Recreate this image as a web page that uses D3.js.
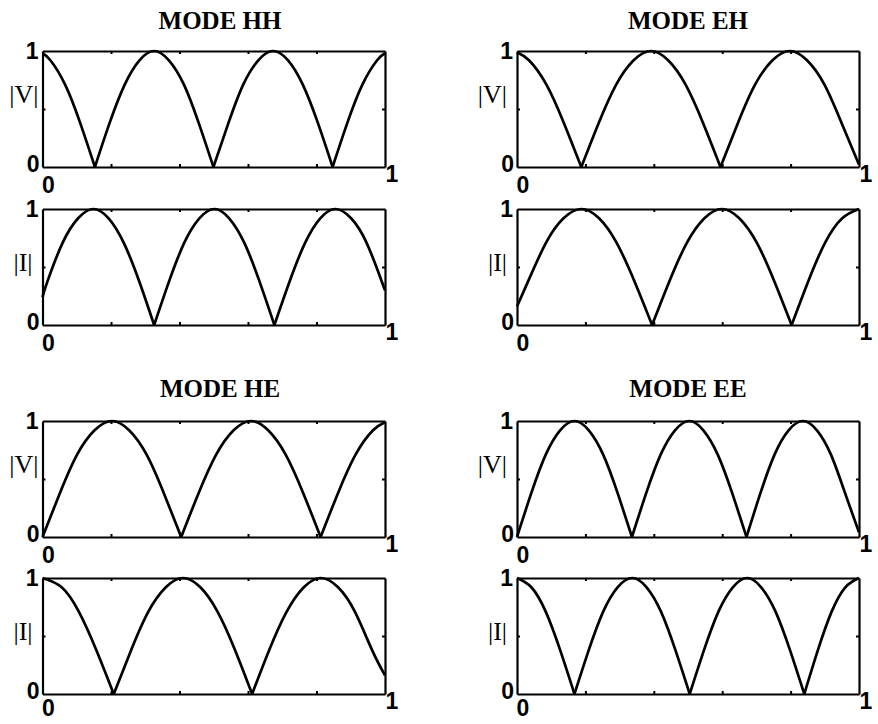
<!DOCTYPE html>
<html>
<head>
<meta charset="utf-8">
<script src="https://cdn.jsdelivr.net/npm/d3@7"></script>
<style>
  body { margin: 0; background: #fff; }
  svg { display: block; }
</style>
</head>
<body>
<svg width="878" height="724"></svg>
<script>
// titels van de vier modes
var modeTitles = ["MODE HH", "MODE EH", "MODE HE", "MODE EE"];
var xTickLabels = ["0", "1"];
var yTickLabels = ["0", "1"];
var minorTicksX = [0.2, 0.4, 0.6, 0.8];
var minorTicksY = [0.5];

// waarden (positie langs de lijn, amplitude)
var hhVx = [0, 0.023, 0.066, 0.110, 0.153, 0.196, 0.240, 0.283, 0.326, 0.369, 0.413, 0.456, 0.499, 0.543, 0.586, 0.630, 0.673, 0.717, 0.760, 0.804, 0.847, 0.890, 0.934, 0.977, 1];
var hhVy = [0.98, 0.92, 0.71, 0.38, 0, 0.38, 0.71, 0.92, 1, 0.92, 0.71, 0.38, 0, 0.38, 0.71, 0.92, 1, 0.92, 0.71, 0.38, 0, 0.38, 0.71, 0.92, 0.98];
var hhIx = [0, 0.015, 0.059, 0.104, 0.148, 0.193, 0.237, 0.282, 0.326, 0.370, 0.414, 0.458, 0.502, 0.545, 0.589, 0.633, 0.677, 0.722, 0.767, 0.811, 0.856, 0.901, 0.946, 0.990, 1];
var hhIy = [0.24, 0.38, 0.71, 0.92, 1, 0.92, 0.71, 0.38, 0, 0.38, 0.71, 0.92, 1, 0.92, 0.71, 0.38, 0, 0.38, 0.71, 0.92, 1, 0.92, 0.71, 0.38, 0.30];

var ehVx = [0, 0.035, 0.086, 0.137, 0.188, 0.239, 0.290, 0.341, 0.392, 0.442, 0.493, 0.544, 0.595, 0.646, 0.696, 0.747, 0.798, 0.848, 0.899, 0.949, 1];
var ehVy = [0.99, 0.92, 0.71, 0.38, 0, 0.38, 0.71, 0.92, 1, 0.92, 0.71, 0.38, 0, 0.38, 0.71, 0.92, 1, 0.92, 0.71, 0.38, 0.02];
var ehIx = [0, 0.033, 0.085, 0.136, 0.188, 0.240, 0.291, 0.343, 0.395, 0.446, 0.497, 0.548, 0.599, 0.650, 0.701, 0.752, 0.803, 0.852, 0.901, 0.951, 1];
var ehIy = [0.16, 0.38, 0.71, 0.92, 1, 0.92, 0.71, 0.38, 0, 0.38, 0.71, 0.92, 1, 0.92, 0.71, 0.38, 0, 0.38, 0.71, 0.92, 1];

var heVx = [0, 0.051, 0.101, 0.152, 0.203, 0.253, 0.304, 0.354, 0.405, 0.456, 0.507, 0.558, 0.609, 0.659, 0.710, 0.761, 0.812, 0.863, 0.914, 0.965, 1];
var heVy = [0, 0.38, 0.71, 0.92, 1, 0.92, 0.71, 0.38, 0, 0.38, 0.71, 0.92, 1, 0.92, 0.71, 0.38, 0, 0.38, 0.71, 0.92, 0.99];
var heIx = [0, 0.056, 0.106, 0.157, 0.208, 0.259, 0.309, 0.360, 0.410, 0.461, 0.511, 0.562, 0.612, 0.662, 0.713, 0.763, 0.813, 0.863, 0.912, 0.962, 1];
var heIy = [1, 0.92, 0.71, 0.38, 0, 0.38, 0.71, 0.92, 1, 0.92, 0.71, 0.38, 0, 0.38, 0.71, 0.92, 1, 0.92, 0.71, 0.38, 0.16];

var eeVx = [0, 0.042, 0.084, 0.126, 0.168, 0.210, 0.252, 0.294, 0.336, 0.378, 0.420, 0.462, 0.504, 0.545, 0.587, 0.629, 0.671, 0.712, 0.753, 0.794, 0.836, 0.877, 0.918, 0.959, 1];
var eeVy = [0, 0.38, 0.71, 0.92, 1, 0.92, 0.71, 0.38, 0, 0.38, 0.71, 0.92, 1, 0.92, 0.71, 0.38, 0, 0.38, 0.71, 0.92, 1, 0.92, 0.71, 0.38, 0.04];
var eeIx = [0, 0.042, 0.084, 0.126, 0.168, 0.210, 0.252, 0.294, 0.337, 0.379, 0.421, 0.463, 0.505, 0.547, 0.589, 0.631, 0.673, 0.714, 0.756, 0.798, 0.840, 0.880, 0.920, 0.960, 1];
var eeIy = [1, 0.92, 0.71, 0.38, 0, 0.38, 0.71, 0.92, 1, 0.92, 0.71, 0.38, 0, 0.38, 0.71, 0.92, 1, 0.92, 0.71, 0.38, 0, 0.38, 0.71, 0.92, 1];

var svg = d3.select("svg");

// kolommen (links/rechts) en rijen (boven/onder) van de figuur
var cols = [
  { x0: 42.5, x1: 385, titleX: 220, vLabelGap: 4 },
  { x0: 517, x1: 859, titleX: 688, vLabelGap: 10 }
];
var rows = [
  { titleY: 29, v: [51, 167], i: [209, 325] },
  { titleY: 397, v: [421, 537], i: [578, 694] }
];

var panels = [
  { title: modeTitles[0], col: 0, row: 0, vx: hhVx, vy: hhVy, ix: hhIx, iy: hhIy },
  { title: modeTitles[1], col: 1, row: 0, vx: ehVx, vy: ehVy, ix: ehIx, iy: ehIy },
  { title: modeTitles[2], col: 0, row: 1, vx: heVx, vy: heVy, ix: heIx, iy: heIy },
  { title: modeTitles[3], col: 1, row: 1, vx: eeVx, vy: eeVy, ix: eeIx, iy: eeIy }
];

// knip de reeks op bij de nulpunten zodat de punten scherp blijven
function arches(xs, ys) {
  var segs = [], cur = [];
  xs.forEach(function (x, i) {
    cur.push([x, ys[i]]);
    if (ys[i] === 0 && cur.length > 1) {
      segs.push(cur);
      cur = [[x, ys[i]]];
    }
  });
  if (cur.length > 1) segs.push(cur);
  return segs;
}

function drawPlot(x0, x1, top, bottom, xs, ys, label, labelGap, labelDy, zeroDy) {
  var x = d3.scaleLinear().domain([0, 1]).range([x0, x1]);
  var y = d3.scaleLinear().domain([0, 1]).range([bottom, top]);
  var g = svg.append("g");

  // kader met kleine streepjes naar binnen
  var axes = [
    [d3.axisBottom(x).tickValues(minorTicksX), "translate(0," + bottom + ")"],
    [d3.axisTop(x).tickValues(minorTicksX), "translate(0," + top + ")"],
    [d3.axisLeft(y).tickValues(minorTicksY), "translate(" + x0 + ",0)"],
    [d3.axisRight(y).tickValues(minorTicksY), "translate(" + x1 + ",0)"]
  ];
  axes.forEach(function (a) {
    var ax = g.append("g")
      .attr("transform", a[1])
      .call(a[0].tickSizeInner(-3).tickSizeOuter(0).tickFormat(""));
    ax.select(".domain").attr("stroke", "#000").attr("stroke-width", 2.2);
    ax.selectAll(".tick line").attr("stroke", "#000").attr("stroke-width", 2);
    ax.selectAll(".tick text").remove();
  });

  var line = d3.line()
    .x(function (d) { return x(d[0]); })
    .y(function (d) { return y(d[1]); })
    .curve(d3.curveNatural);

  g.selectAll("path.curve")
    .data(arches(xs, ys))
    .enter().append("path")
    .attr("class", "curve")
    .attr("d", line)
    .attr("fill", "none")
    .attr("stroke", "#000")
    .attr("stroke-width", 2.7)
    .attr("stroke-linejoin", "round");

  var num = g.append("g")
    .attr("font-family", "'Liberation Sans', Arial, sans-serif")
    .attr("font-weight", "bold")
    .attr("font-size", 23)
    .attr("fill", "#000");

  num.append("text").attr("x", x0 - 4).attr("y", y(1) + 8).attr("text-anchor", "end").text(yTickLabels[1]);
  num.append("text").attr("x", x0 - 3).attr("y", y(0) + 5).attr("text-anchor", "end").text(yTickLabels[0]);
  num.append("text").attr("x", x(0) + 6).attr("y", y(0) + zeroDy).attr("text-anchor", "middle").text(xTickLabels[0]);
  num.append("text").attr("x", x(1) + 7).attr("y", y(0) + 15).attr("text-anchor", "middle").text(xTickLabels[1]);

  g.append("text")
    .attr("x", x0 - labelGap)
    .attr("y", top + labelDy)
    .attr("text-anchor", "end")
    .attr("font-family", "'Liberation Serif', 'Times New Roman', serif")
    .attr("font-size", 26)
    .attr("fill", "#000")
    .text(label);
}

panels.forEach(function (p) {
  var c = cols[p.col], r = rows[p.row];

  svg.append("text")
    .attr("x", c.titleX)
    .attr("y", r.titleY)
    .attr("text-anchor", "middle")
    .attr("font-family", "'Liberation Serif', 'Times New Roman', serif")
    .attr("font-weight", "bold")
    .attr("font-size", 25)
    .attr("fill", "#000")
    .text(p.title);

  drawPlot(c.x0, c.x1, r.v[0], r.v[1], p.vx, p.vy, "|V|", c.vLabelGap, 52, 26);
  drawPlot(c.x0, c.x1, r.i[0], r.i[1], p.ix, p.iy, "|I|", 10, 62, p.row === 1 ? 22 : 26);
});
</script>
</body>
</html>
